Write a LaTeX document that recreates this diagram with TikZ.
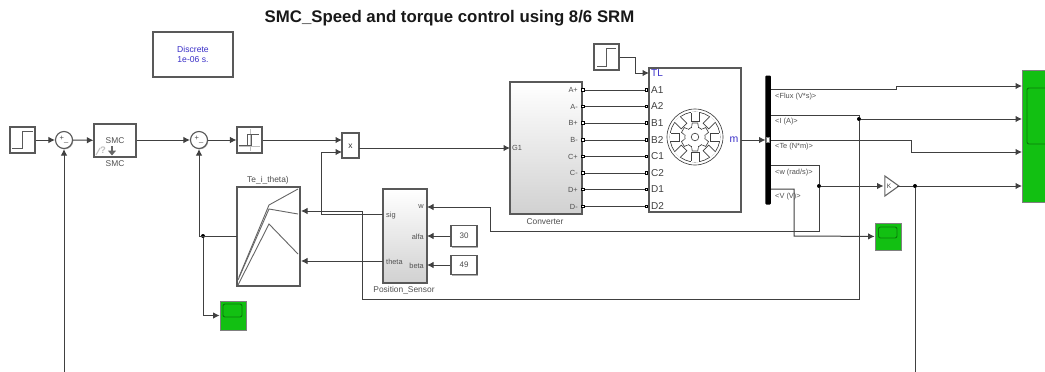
\documentclass[tikz,border=0pt]{standalone}
\usepackage{fontspec}
\setmainfont{Liberation Sans}
\usetikzlibrary{arrows.meta,shadows,shapes.geometric}
\definecolor{wirec}{HTML}{404040}
\definecolor{scopeg}{HTML}{12C012}
\definecolor{scoped}{HTML}{0B7A0B}
\definecolor{txtc}{HTML}{505050}
\definecolor{bluet}{HTML}{3A2FC8}
\tikzset{
  wire/.style={draw=wirec,line width=1pt},
  arrowwire/.style={wire,-{Latex[length=6.5pt,width=6.5pt]}},
  blockbox/.style={draw=black!65,line width=1.1pt,fill=white,rectangle,inner sep=0pt,
    drop shadow={shadow xshift=1pt,shadow yshift=-1pt,fill=black!45,opacity=0.7}},
  graybox/.style={blockbox,top color=white,bottom color=black!18},
  sumnode/.style={circle,draw=black!65,line width=1.1pt,fill=white,minimum size=17pt,inner sep=0pt,
    drop shadow={shadow xshift=0.8pt,shadow yshift=-0.8pt,fill=black!45,opacity=0.7}},
  scopebox/.style={rectangle,draw=black!50,line width=0.8pt,fill=scopeg,inner sep=0pt,
    drop shadow={shadow xshift=1pt,shadow yshift=-1pt,fill=black!45,opacity=0.7}},
  scopescreen/.style={draw=scoped,line width=0.9pt,fill=scopeg,rounded corners=2pt},
  junction/.style={circle,fill=black,inner sep=0pt,minimum size=4pt},
  lab/.style={font=\fontsize{7.4}{8}\selectfont,text=txtc,inner sep=0pt},
  blocklab/.style={font=\fontsize{8.4}{9}\selectfont,text=txtc,inner sep=0pt},
  motorlab/.style={font=\fontsize{10}{10}\selectfont,text=black!75,inner sep=0pt,anchor=west},
  portsq/.style={rectangle,draw=black,line width=0.9pt,fill=white,minimum size=2.6pt,inner sep=0pt},
  icon/.style={draw=black!65,line width=0.9pt},
  gearline/.style={draw=black!75,line width=0.65pt}
}
\begin{document}
\begin{tikzpicture}[x=1pt,y=-1pt]
\useasboundingbox (0,0) rectangle (1045,372);
\clip (0,0) rectangle (1045,372);
\fill[white] (0,0) rectangle (1045,372);
% title
\node[font=\bfseries\fontsize{16.8}{18}\selectfont,text=black!90,inner sep=0pt] (title) at (449.5,18) {SMC\_Speed and torque control using 8/6 SRM};
% powergui
\node[blockbox,minimum width=80pt,minimum height=45pt,align=center,text=bluet,font=\fontsize{8.6}{9.4}\selectfont] (gui) at (193,54.5) {Discrete\\1e-06 s.};
% left chain
\node[blockbox,minimum width=25pt,minimum height=26pt] (step1) at (22.5,140) {};
\draw[icon] (12,148) -- (22,148) -- (22,131) -- (33,131);
\node[sumnode] (sum1) at (64,140) {};
\node[font=\fontsize{7.5}{7.5}\selectfont,text=black!70,inner sep=0pt] (s1t) at (64,140) {+\raisebox{-1pt}{\_}};
\node[blockbox,minimum width=42pt,minimum height=33pt] (smc) at (115,140.5) {};
\node[blocklab] (smct) at (115,140.5) {SMC};
\node[font=\bfseries\fontsize{9.5}{10}\selectfont,text=black!25,inner sep=0pt] (smcq) at (103,150.5) {?};
\draw[black!25,line width=1pt] (96,155) -- (100,148);
\draw[black!60,line width=2.4pt,-{Triangle[length=5pt,width=8pt]}] (112,146) -- (112,155.5);
\node[blocklab] (smcl) at (115,164) {SMC};
\node[sumnode] (sum2) at (199,140) {};
\node[font=\fontsize{7.5}{7.5}\selectfont,text=black!70,inner sep=0pt] (s2t) at (199,140) {+\raisebox{-1pt}{\_}};
\node[blockbox,minimum width=25pt,minimum height=26pt] (relay) at (249.5,140) {};
\draw[black!25,line width=0.6pt] (239,146) -- (260,146) (250,129) -- (250,151);
\draw[icon] (238.5,145) -- (251,145) -- (251,134) -- (258.5,134) (247,145) -- (247,134) -- (251,134);
\node[blockbox,minimum width=17pt,minimum height=25pt] (mult) at (350.5,145.5) {};
\node[font=\fontsize{8.4}{8.4}\selectfont,text=black!80,inner sep=0pt] (multt) at (350.5,146) {x};
\coordinate (multA) at (342,140);
\coordinate (multB) at (342,152);
\coordinate (multO) at (359,148);
% Te table
\node[blockbox,minimum width=63pt,minimum height=99pt] (te) at (268.5,236.5) {};
\node[blocklab] (tel) at (268,180) {Te\_i\_theta)};
\draw[black!60,line width=0.9pt] (239,277) -- (269,205) -- (298,189);
\draw[black!60,line width=0.9pt] (238,280) -- (269,209) -- (298,214);
\draw[black!60,line width=0.9pt] (238,285) -- (269,224) -- (298,254);
\coordinate (teA) at (301,211);
\coordinate (teB) at (301,261);
\coordinate (teL) at (237,236);
% scope lower left
\node[scopebox,minimum width=26pt,minimum height=29pt] (sc1) at (233,315.5) {};
\draw[scopescreen] (223,304) rectangle (242,317);
% position sensor
\node[graybox,minimum width=44pt,minimum height=94pt] (pos) at (405,236) {};
\node[lab,anchor=west] (psig) at (386,216) {sig};
\node[lab,anchor=west] (pth) at (386,262) {theta};
\node[lab,anchor=east] (pw) at (424,207) {w};
\node[lab,anchor=east] (pa) at (424,237) {alfa};
\node[lab,anchor=east] (pb) at (424,266) {beta};
\node[blocklab] (posl) at (404,290) {Position\_Sensor};
\coordinate (posSig) at (383,214.5);
\coordinate (posTh) at (383,261);
\coordinate (posW) at (427,207);
\coordinate (posA) at (427,236);
\coordinate (posB) at (427,265);
\node[blockbox,minimum width=26pt,minimum height=21pt,font=\fontsize{8}{8}\selectfont,text=black!70] (c30) at (464,236) {30};
\node[blockbox,minimum width=26pt,minimum height=19pt,font=\fontsize{8}{8}\selectfont,text=black!70] (c49) at (464,265) {49};
% converter
\node[graybox,minimum width=72pt,minimum height=132pt] (conv) at (546,148) {};
\node[blocklab] (convl) at (545,222) {Converter};
\node[lab,anchor=west] (g1) at (512,148) {G1};
\coordinate (convG) at (510,148);
% step 2
\node[blockbox,minimum width=25pt,minimum height=26pt] (step2) at (606.5,57) {};
\draw[icon] (597,66) -- (606,66) -- (606,48) -- (616,48);
% motor
\node[blockbox,minimum width=92pt,minimum height=144pt] (motor) at (695,140) {};
\coordinate (motTL) at (649,73);
\node[motorlab,text=bluet] (tl) at (651,73) {TL};
\node[font=\fontsize{10.5}{10.5}\selectfont,text=bluet,inner sep=0pt] (mm) at (734,140) {m};
\coordinate (motM) at (741,140);
% ports and connections
\foreach \yy/\cl/\ml/\nm in {90/A+/A1/a,106.5/A-/A2/b,123/B+/B1/c,140/B-/B2/d,156.5/C+/C1/e,173/C-/C2/f,189.5/D+/D1/g,206.5/D-/D2/h}{
  \node[lab,anchor=east] (cl\nm) at (578,\yy) {\cl};
  \node[motorlab] (ml\nm) at (651,\yy) {\ml};
  \node[portsq] (cp\nm) at (583,\yy) {};
  \node[portsq] (mp\nm) at (646.5,\yy) {};
  \draw[wire] (cp\nm) -- (mp\nm);
}
% motor icon
\begin{scope}[shift={(695,137)}]
  \draw[gearline] (0,0) circle (28);
  \draw[gearline] (0,0) circle (25);
  \foreach \a in {0,45,...,315}{
    \begin{scope}[rotate=\a]
      \draw[gearline,fill=white] (25,-4) -- (15.5,-4) -- (15.5,4) -- (25,4);
      \fill[white] (25.4,-3.6) rectangle (24.4,3.6);
    \end{scope}
  }
  \foreach \a in {30,90,...,330}{
    \begin{scope}[rotate=\a]
      \draw[gearline,fill=white] (9.5,-3.4) -- (14,-2.8) -- (14,2.8) -- (9.5,3.4);
    \end{scope}
  }
  \draw[gearline] (0,0) circle (10.2);
  \foreach \a in {30,90,...,330}{
    \begin{scope}[rotate=\a]
      \fill[white] (8.5,-2.9) rectangle (10.9,2.9);
    \end{scope}
  }
  \draw[gearline] (0,0) circle (3.8);
\end{scope}
% bus
\node[rectangle,fill=black,rounded corners=1pt,minimum width=5.5pt,minimum height=129pt,inner sep=0pt] (bus) at (768,140) {};
\node[rectangle,fill=white,draw=black!50,line width=0.3pt,minimum width=3pt,minimum height=5pt,inner sep=0pt] (busp) at (768,140) {};
\coordinate (bF) at (771,89);
\coordinate (bI) at (771,115);
\coordinate (bT) at (771,140);
\coordinate (bW) at (771,165);
\coordinate (bV) at (771,189);
\coordinate (busIn) at (765.5,140);
\node[lab,anchor=west] (lF) at (775,97) {<Flux (V*s)>};
\node[lab,anchor=west] (lI) at (775,121.5) {<I (A)>};
\node[lab,anchor=west] (lT) at (775,146.5) {<Te (N*m)>};
\node[lab,anchor=west] (lW) at (775,172.5) {<w (rad/s)>};
\node[lab,anchor=west] (lV) at (775,197) {<V (V)>};
% gain
\node[isosceles triangle,isosceles triangle stretches=true,draw=black!60,line width=1.1pt,fill=white,minimum height=14pt,minimum width=20pt,inner sep=0pt] (gain) at (890,186) {};
\node[font=\fontsize{6.5}{6.5}\selectfont,text=black!75,inner sep=0pt] (gaint) at (889,186) {K};
\coordinate (gainI) at (883.5,186);
\coordinate (gainO) at (897,186);
% scopes right
\node[scopebox,minimum width=26pt,minimum height=27pt] (sc2) at (888,236.5) {};
\draw[scopescreen] (878.5,227) rectangle (897,238);
\node[scopebox,minimum width=30pt,minimum height=132pt] (sc3) at (1037,136) {};
\draw[scopescreen] (1027,88) rectangle (1060,144);
\coordinate (sc3a) at (1022,86);
\coordinate (sc3b) at (1022,119);
\coordinate (sc3c) at (1022,152);
\coordinate (sc3d) at (1022,186);
% free ends
\coordinate (botA) at (64,372);
\coordinate (botB) at (915,372);
% junctions
\node[junction] (jTe) at (203,236) {};
\node[junction] (jI) at (859,119) {};
\node[junction] (jW) at (819,186) {};
\node[junction] (jG) at (915,186) {};
% wires
\draw[arrowwire] (step1) -- (sum1);
\draw[arrowwire] (sum1) -- (smc);
\draw[arrowwire] (smc.east |- sum2) -- (sum2);
\draw[arrowwire] (sum2) -- (relay);
\draw[arrowwire] (relay) -- (multA);
\draw[arrowwire] (multO) -- (convG);
\draw[arrowwire] (botA) -- (sum1);
\draw[arrowwire] (teL) -- (199,236) -- (sum2);
\draw[arrowwire] (jTe) |- (sc1);
\draw[arrowwire] (posSig) -- (321,214.5) -- (321,152) -- (multB);
\draw[arrowwire] (posTh) -- (teB);
\draw[arrowwire] (c30) -- (posA);
\draw[arrowwire] (c49) -- (posB);
\draw[arrowwire] (step2.east) -- (635,57) -- (635,73) -- (motTL);
\draw[arrowwire] (motM) -- (busIn);
\draw[arrowwire] (bF) -- (896,89) -- (896,86) -- (sc3a);
\draw[wire] (bI) -- (859,115) -- (jI);
\draw[arrowwire] (jI) -- (sc3b);
\draw[arrowwire] (jI) -- (859,299) -- (362,299) -- (362,211) -- (teA);
\draw[arrowwire] (bT) -- (911,140) -- (911,152) -- (sc3c);
\draw[wire] (bW) -- (819,165) -- (jW);
\draw[arrowwire] (jW) -- (819,231) -- (490,231) -- (490,207) -- (posW);
\draw[arrowwire] (jW) -- (gainI);
\draw[wire] (gainO) -- (jG);
\draw[arrowwire] (jG) -- (sc3d);
\draw[wire] (jG) -- (botB);
\draw[arrowwire] (bV) -- (794,189) -- (794,236) -- (sc2);
\end{tikzpicture}
\end{document}
